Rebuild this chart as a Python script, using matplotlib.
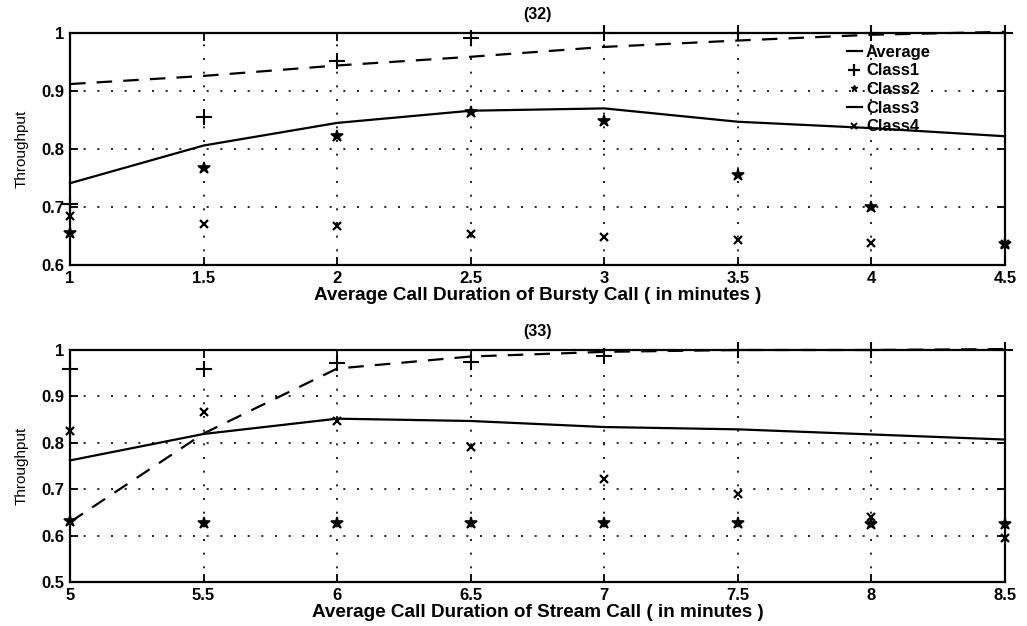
import matplotlib
matplotlib.use("Agg")
import matplotlib.pyplot as plt
from matplotlib.lines import Line2D

plt.rcParams['font.family'] = ['Liberation Sans', 'DejaVu Sans']

# Panel (32): bursty call duration
x_bursty = [1, 1.5, 2, 2.5, 3, 3.5, 4, 4.5]
avg_bursty = [0.912, 0.926, 0.944, 0.959, 0.976, 0.987, 0.997, 1.002]
class1_bursty = [0.706, 0.856, 0.951, 0.991, 1.0, 1.0, 1.0, 1.0]
class2_bursty = [0.655, 0.768, 0.822, 0.863, 0.849, 0.755, 0.700, 0.637]
class3_bursty = [0.741, 0.806, 0.845, 0.866, 0.870, 0.847, 0.836, 0.822]
class4_bursty = [0.684, 0.671, 0.667, 0.653, 0.648, 0.643, 0.638, 0.636]

# Panel (33): stream call duration
x_stream = [5, 5.5, 6, 6.5, 7, 7.5, 8, 8.5]
avg_stream = [0.629, 0.820, 0.960, 0.986, 0.996, 1.0, 1.0, 1.002]
class1_stream = [0.960, 0.960, 0.971, 0.975, 0.986, 1.0, 1.0, 1.0]
class2_stream = [0.631, 0.628, 0.628, 0.627, 0.628, 0.627, 0.624, 0.626]
class3_stream = [0.762, 0.819, 0.852, 0.847, 0.834, 0.829, 0.818, 0.807]
class4_stream = [0.825, 0.867, 0.847, 0.791, 0.721, 0.689, 0.640, 0.595]

labels = ["Average", "Class1", "Class2", "Class3", "Class4"]

W, H = 1027, 626
fig = plt.figure(figsize=(W / 100, H / 100), dpi=100)


def px_axes(left, top, right, bottom):
    return fig.add_axes([left / W, 1 - bottom / H, (right - left) / W, (bottom - top) / H])


def draw_panel(ax, x, avg, c1, c2, c3, c4, title, xlabel, ylim, yticks):
    ax.plot(x, avg, color='black', lw=1.6, linestyle=(0, (7, 5)), clip_on=False, zorder=3)
    ax.plot(x, c3, color='black', lw=1.6, clip_on=False, zorder=3)
    ax.plot(x, c1, linestyle='none', marker='+', ms=11, mew=1.5, color='black', clip_on=False, zorder=4)
    ax.plot(x, c2, linestyle='none', marker='*', ms=9, mew=1.2, color='black', clip_on=False, zorder=4)
    ax.plot(x, c4, linestyle='none', marker='x', ms=6, mew=1.6, color='black', clip_on=False, zorder=4)
    ax.set_xlim(x[0], x[-1])
    ax.set_ylim(*ylim)
    ax.set_xticks(x)
    ax.set_xticklabels([f"{v:g}" for v in x])
    ax.set_yticks(yticks)
    ax.set_yticklabels([f"{v:g}" for v in yticks])
    ax.grid(True, color='black', linestyle=(0, (1.2, 7)), lw=1.2)
    ax.tick_params(direction='in', top=True, right=True, length=6, width=1.3,
                   labelsize=12, pad=4)
    for lab in ax.get_xticklabels() + ax.get_yticklabels():
        lab.set_fontweight('bold')
    for s in ax.spines.values():
        s.set_linewidth(1.6)
    ax.set_title(title, fontsize=11.5, fontweight='bold', pad=10)
    ax.set_xlabel(xlabel, fontsize=13.6, fontweight='bold', labelpad=1)
    ax.set_ylabel("Throughput", fontsize=11, labelpad=9)


ax1 = px_axes(70, 33, 1005, 265)
draw_panel(ax1, x_bursty, avg_bursty, class1_bursty, class2_bursty, class3_bursty, class4_bursty,
           "(32)", "Average Call Duration of Bursty Call ( in minutes )", (0.6, 1.0),
           [0.6, 0.7, 0.8, 0.9, 1.0])

ax2 = px_axes(70, 350, 1005, 582)
draw_panel(ax2, x_stream, avg_stream, class1_stream, class2_stream, class3_stream, class4_stream,
           "(33)", "Average Call Duration of Stream Call ( in minutes )", (0.5, 1.0),
           [0.5, 0.6, 0.7, 0.8, 0.9, 1.0])

handles = [
    Line2D([], [], color='black', lw=1.6),
    Line2D([], [], color='black', linestyle='none', marker='+', ms=8, mew=1.6),
    Line2D([], [], color='black', linestyle='none', marker='*', ms=5),
    Line2D([], [], color='black', lw=1.6),
    Line2D([], [], color='black', linestyle='none', marker='x', ms=5, mew=1.4),
]
leg = ax1.legend(handles, labels, loc='upper left', bbox_to_anchor=(0.822, 0.985),
                 frameon=False, handlelength=0.9, handletextpad=0.25, labelspacing=0.22,
                 borderpad=0, prop={'size': 12, 'weight': 'bold'})

fig.savefig("out.png", dpi=100)
